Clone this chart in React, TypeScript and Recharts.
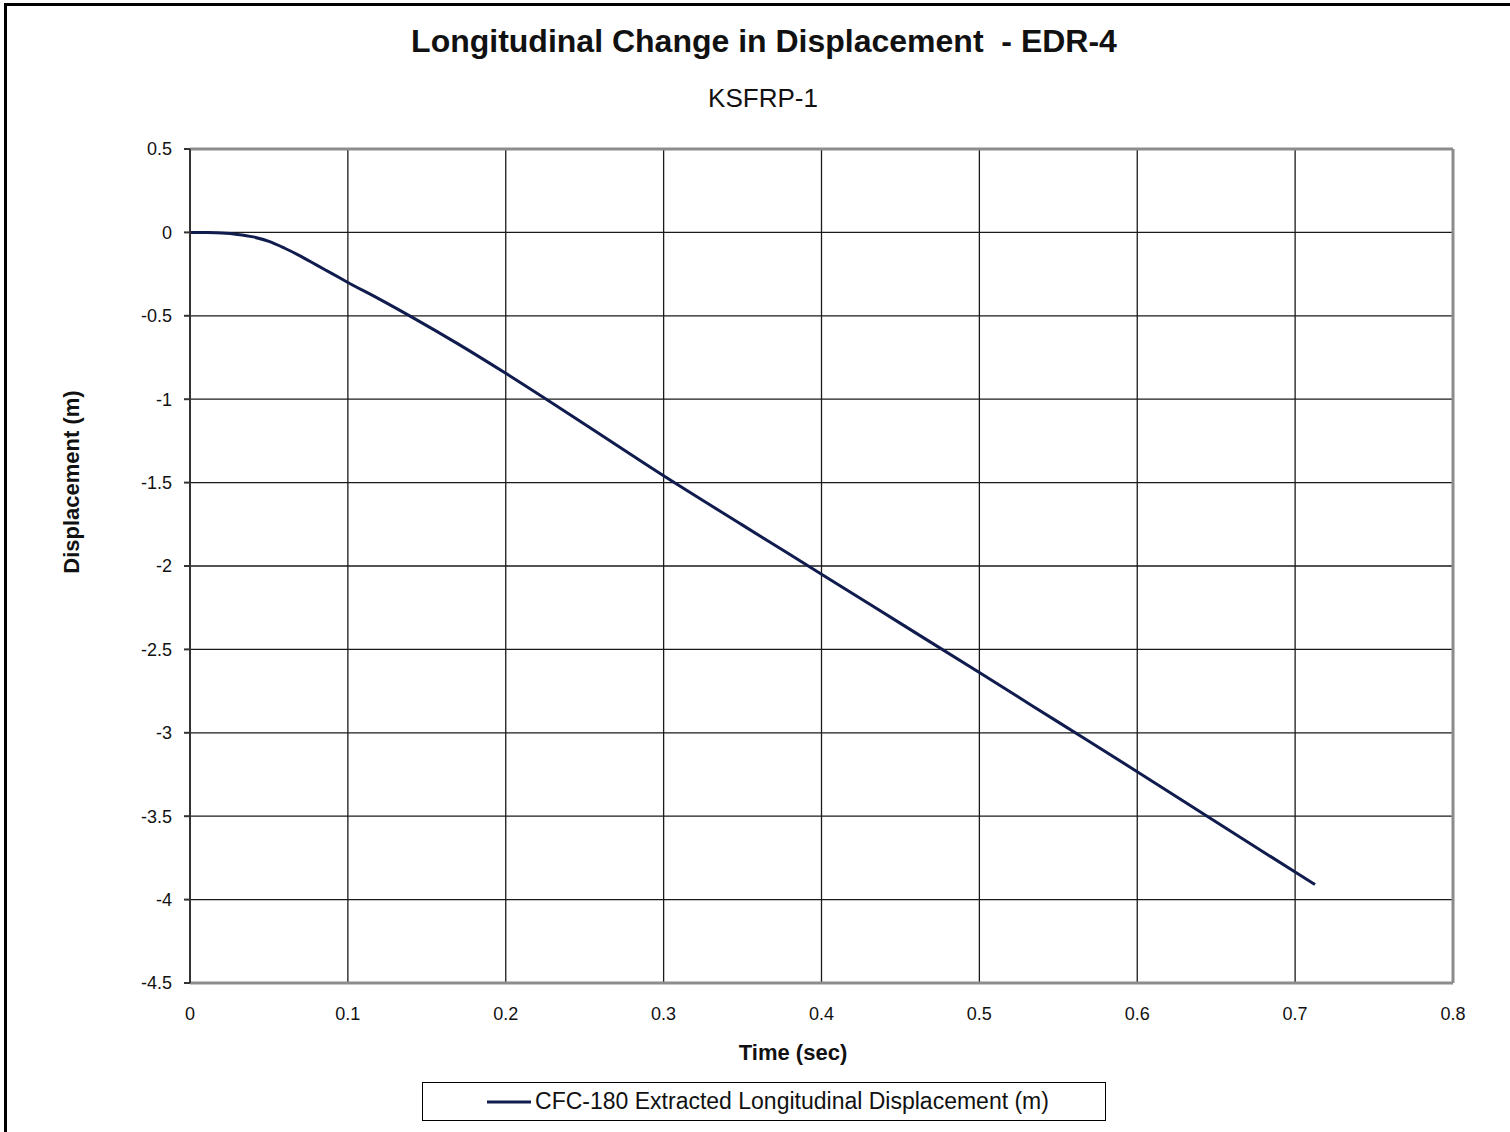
import React from 'react';
import { LineChart, Line, XAxis, YAxis, CartesianGrid, Legend, ReferenceLine } from 'recharts';

const timeSec = [0, 0.01, 0.02, 0.03, 0.04, 0.05, 0.06, 0.07, 0.08, 0.09, 0.1, 0.12, 0.14, 0.17, 0.2, 0.25, 0.3, 0.35, 0.4, 0.45, 0.5, 0.55, 0.6, 0.65, 0.7, 0.7126];
const displacement = [0, -0.001, -0.004, -0.012, -0.027, -0.054, -0.095, -0.142, -0.195, -0.247, -0.3, -0.4, -0.505, -0.67, -0.845, -1.15, -1.459, -1.755, -2.049, -2.344, -2.639, -2.936, -3.233, -3.535, -3.835, -3.91];
const xTicks = [0, 0.1, 0.2, 0.3, 0.4, 0.5, 0.6, 0.7, 0.8];
const yTicks = [0.5, 0, -0.5, -1, -1.5, -2, -2.5, -3, -3.5, -4, -4.5];
const seriesName = 'CFC-180 Extracted Longitudinal Displacement (m)';

const data = timeSec.map((t, i) => ({ t, d: displacement[i] }));

const font = '"Liberation Sans", Arial, sans-serif';
const lineColor = '#0f1c4d';

const LegendBox = () => (
  <div
    style={{
      width: 682,
      height: 37,
      border: '1px solid #000',
      display: 'flex',
      alignItems: 'center',
      justifyContent: 'center',
      fontFamily: font,
      fontSize: 23,
      color: '#111',
      background: '#fff',
    }}
  >
    <svg width={44} height={10} style={{ marginRight: 4, marginLeft: 8 }}>
      <line x1={0} y1={5} x2={44} y2={5} stroke={lineColor} strokeWidth={3} />
    </svg>
    <span>{seriesName}</span>
  </div>
);

export default function App() {
  return (
    <div style={{ position: 'absolute', left: 0, top: 0, width: 1510, height: 1132, background: '#fff', overflow: 'hidden', fontFamily: font }}>
      <div style={{ position: 'absolute', left: 4, top: 3, width: 1530, height: 1150, border: '3px solid #000' }} />
      <div style={{ position: 'absolute', left: 0, width: 1528, top: 23, textAlign: 'center', fontSize: 32, fontWeight: 'bold', color: '#111', whiteSpace: 'pre' }}>
        {'Longitudinal Change in Displacement  - EDR-4'}
      </div>
      <div style={{ position: 'absolute', left: 0, width: 1526, top: 83, textAlign: 'center', fontSize: 26, color: '#111' }}>
        KSFRP-1
      </div>
      <div style={{ position: 'absolute', left: 0, top: 0 }}>
        <LineChart width={1510} height={1132} data={data} margin={{ top: 149, right: 57, bottom: 80, left: 130 }}>
          <CartesianGrid stroke="#1a1a1a" strokeWidth={1.3} />
          <XAxis
            dataKey="t"
            type="number"
            domain={[0, 0.8]}
            ticks={xTicks}
            height={30}
            axisLine={{ stroke: '#8c8c8c', strokeWidth: 3 }}
            tickLine={false}
            tickMargin={18}
            tick={{ fill: '#111', fontSize: 18, fontFamily: font }}
          />
          <YAxis
            type="number"
            domain={[-4.5, 0.5]}
            ticks={yTicks}
            width={60}
            axisLine={{ stroke: '#333', strokeWidth: 2 }}
            tickLine={{ stroke: '#333', strokeWidth: 2 }}
            tickSize={6}
            tickMargin={12}
            tick={{ fill: '#111', fontSize: 18, fontFamily: font }}
          />
          <ReferenceLine y={0.5} stroke="#8c8c8c" strokeWidth={3} />
          <ReferenceLine x={0.8} stroke="#8c8c8c" strokeWidth={3} />
          <Line
            type="monotone"
            dataKey="d"
            name={seriesName}
            stroke={lineColor}
            strokeWidth={3}
            dot={false}
            isAnimationActive={false}
          />
          <Legend
            content={() => <LegendBox />}
            wrapperStyle={{ position: 'absolute', left: 422, top: 1082, width: 684, height: 39, bottom: 'auto' }}
          />
        </LineChart>
      </div>
      <div style={{ position: 'absolute', left: 72, top: 482, transform: 'translate(-50%, -50%) rotate(-90deg)', fontSize: 22, fontWeight: 'bold', color: '#111', whiteSpace: 'nowrap' }}>
        Displacement (m)
      </div>
      <div style={{ position: 'absolute', left: 793, top: 1053, transform: 'translate(-50%, -50%)', fontSize: 22, fontWeight: 'bold', color: '#111', whiteSpace: 'nowrap' }}>
        Time (sec)
      </div>
    </div>
  );
}
